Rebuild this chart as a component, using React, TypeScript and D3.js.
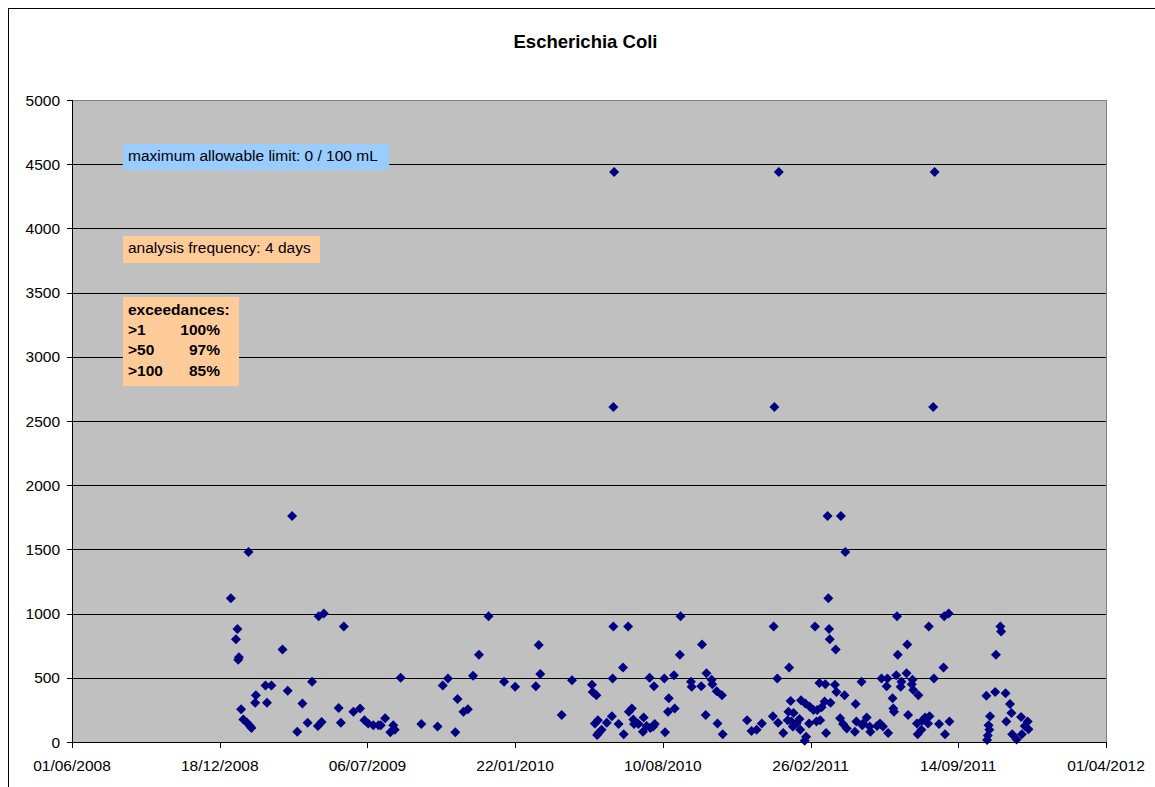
import React from 'react';
import * as d3 from 'd3';

const chartTitle = 'Escherichia Coli';
const limitNote = 'maximum allowable limit: 0 / 100 mL';
const frequencyNote = 'analysis frequency: 4 days';
const exceedanceHeader = 'exceedances:';
const exceedanceThresholds = ['>1', '>50', '>100'];
const exceedancePercents = ['100%', '97%', '85%'];

const yTickValues = [0, 500, 1000, 1500, 2000, 2500, 3000, 3500, 4000, 4500, 5000];
const xTickDates = ['2008-06-01', '2008-12-18', '2009-07-06', '2010-01-22', '2010-08-10', '2011-02-26', '2011-09-14', '2012-04-01'];

const samples2009: [string, number][] = [
  ['2009-01-02', 1120], ['2009-01-09', 800], ['2009-01-11', 880], ['2009-01-12', 640], ['2009-01-13', 660],
  ['2009-01-16', 255], ['2009-01-19', 175], ['2009-01-24', 150], ['2009-01-26', 1480], ['2009-01-28', 125],
  ['2009-01-30', 110], ['2009-02-04', 305], ['2009-02-05', 365], ['2009-02-18', 440], ['2009-02-20', 305],
  ['2009-02-26', 440], ['2009-03-13', 720], ['2009-03-20', 400], ['2009-03-26', 1760], ['2009-04-02', 80],
  ['2009-04-09', 300], ['2009-04-16', 150], ['2009-04-22', 470], ['2009-04-30', 125], ['2009-05-01', 980],
  ['2009-05-05', 155], ['2009-05-08', 1000], ['2009-05-28', 265], ['2009-05-31', 150], ['2009-06-04', 900],
  ['2009-06-17', 235], ['2009-06-26', 260], ['2009-07-02', 170], ['2009-07-07', 145], ['2009-07-14', 130],
  ['2009-07-21', 130], ['2009-07-24', 130], ['2009-07-30', 185], ['2009-08-06', 75], ['2009-08-10', 130],
  ['2009-08-12', 95], ['2009-08-20', 500], ['2009-09-17', 140], ['2009-10-09', 120], ['2009-10-16', 440],
  ['2009-10-23', 495], ['2009-11-02', 75], ['2009-11-05', 335], ['2009-11-13', 235], ['2009-11-19', 255],
  ['2009-11-26', 515], ['2009-12-04', 680], ['2009-12-17', 980],
];

const samples2010: [string, number][] = [
  ['2010-01-07', 470], ['2010-01-22', 430], ['2010-02-19', 435], ['2010-02-23', 755], ['2010-02-25', 530],
  ['2010-03-26', 210], ['2010-04-09', 480], ['2010-05-06', 445], ['2010-05-07', 390], ['2010-05-10', 145],
  ['2010-05-12', 365], ['2010-05-13', 55], ['2010-05-14', 170], ['2010-05-15', 70], ['2010-05-19', 95],
  ['2010-05-26', 150], ['2010-06-02', 200], ['2010-06-03', 495], ['2010-06-04', 900], ['2010-06-04', 2610],
  ['2010-06-05', 4440], ['2010-06-11', 140], ['2010-06-17', 580], ['2010-06-18', 60], ['2010-06-24', 900],
  ['2010-06-25', 235], ['2010-06-29', 260], ['2010-07-01', 175], ['2010-07-02', 140], ['2010-07-08', 140],
  ['2010-07-14', 80], ['2010-07-15', 190], ['2010-07-19', 125], ['2010-07-23', 500], ['2010-07-24', 110],
  ['2010-07-28', 120], ['2010-07-29', 435], ['2010-07-30', 140], ['2010-08-12', 495], ['2010-08-13', 75],
  ['2010-08-17', 235], ['2010-08-18', 340], ['2010-08-25', 520], ['2010-08-26', 260], ['2010-09-02', 680],
  ['2010-09-03', 980], ['2010-09-17', 470], ['2010-09-18', 430], ['2010-10-01', 435], ['2010-10-02', 760],
  ['2010-10-07', 210], ['2010-10-08', 535], ['2010-10-15', 485], ['2010-10-16', 450], ['2010-10-22', 395],
  ['2010-10-23', 145], ['2010-10-29', 365], ['2010-10-30', 60], ['2010-12-02', 170], ['2010-12-08', 85],
  ['2010-12-15', 95], ['2010-12-22', 145],
];

const samples2011: [string, number][] = [
  ['2011-01-06', 200], ['2011-01-07', 900], ['2011-01-08', 2610], ['2011-01-12', 495], ['2011-01-13', 150],
  ['2011-01-14', 4440], ['2011-01-20', 70], ['2011-01-26', 170], ['2011-01-27', 235], ['2011-01-28', 580],
  ['2011-01-30', 320], ['2011-01-31', 160], ['2011-02-02', 120], ['2011-02-03', 225], ['2011-02-07', 145],
  ['2011-02-11', 180], ['2011-02-12', 95], ['2011-02-13', 325], ['2011-02-18', 10], ['2011-02-19', 300],
  ['2011-02-20', 40], ['2011-02-24', 145], ['2011-02-25', 275], ['2011-03-02', 250], ['2011-03-04', 900],
  ['2011-03-06', 160], ['2011-03-07', 250], ['2011-03-10', 460], ['2011-03-11', 170], ['2011-03-13', 270],
  ['2011-03-17', 315], ['2011-03-18', 450], ['2011-03-19', 70], ['2011-03-21', 1760], ['2011-03-22', 1120],
  ['2011-03-23', 880], ['2011-03-24', 800], ['2011-03-25', 305], ['2011-03-31', 445], ['2011-04-01', 720],
  ['2011-04-02', 390], ['2011-04-07', 185], ['2011-04-08', 1760], ['2011-04-11', 140], ['2011-04-13', 365],
  ['2011-04-14', 1480], ['2011-04-16', 105], ['2011-04-27', 80], ['2011-04-28', 295], ['2011-04-29', 160],
  ['2011-05-06', 470], ['2011-05-07', 130], ['2011-05-08', 145], ['2011-05-13', 190], ['2011-05-17', 120],
  ['2011-05-18', 80], ['2011-05-27', 125], ['2011-05-31', 145], ['2011-06-02', 495], ['2011-06-04', 120],
  ['2011-06-09', 435], ['2011-06-10', 495], ['2011-06-11', 70], ['2011-06-17', 340], ['2011-06-18', 260],
  ['2011-06-19', 235], ['2011-06-22', 520], ['2011-06-23', 980], ['2011-06-24', 680], ['2011-06-28', 430],
  ['2011-06-29', 470], ['2011-07-06', 535], ['2011-07-07', 760], ['2011-07-08', 210], ['2011-07-13', 450],
  ['2011-07-14', 485], ['2011-07-15', 405], ['2011-07-20', 145], ['2011-07-21', 60], ['2011-07-22', 365],
  ['2011-07-26', 95], ['2011-07-27', 165], ['2011-07-31', 190], ['2011-08-04', 145], ['2011-08-05', 900],
  ['2011-08-06', 200], ['2011-08-11', 2610], ['2011-08-12', 495], ['2011-08-13', 4440], ['2011-08-19', 140],
  ['2011-08-25', 580], ['2011-08-26', 980], ['2011-08-27', 60], ['2011-09-01', 1000], ['2011-09-02', 160],
  ['2011-10-22', 360], ['2011-10-23', 15], ['2011-10-24', 50], ['2011-10-25', 130], ['2011-10-26', 95],
  ['2011-10-27', 200], ['2011-11-03', 390], ['2011-11-04', 680], ['2011-11-10', 900], ['2011-11-11', 860],
  ['2011-11-17', 380], ['2011-11-18', 160], ['2011-11-23', 295], ['2011-11-25', 225], ['2011-11-26', 60],
  ['2011-12-02', 20], ['2011-12-08', 195], ['2011-12-09', 60], ['2011-12-13', 125], ['2011-12-17', 160],
  ['2011-12-18', 100],
];

const FONT = '"Liberation Sans", Arial, Helvetica, sans-serif';

export default function App() {
  const W = 1155;
  const H = 787;
  const plot = { left: 72, right: 1106, top: 100, bottom: 742 };
  const parse = d3.utcParse('%Y-%m-%d');
  const fmt = d3.utcFormat('%d/%m/%Y');
  const tickDates = xTickDates.map((d) => parse(d) as Date);

  const x = d3.scaleUtc().domain([tickDates[0], tickDates[tickDates.length - 1]]).range([plot.left, plot.right]);
  const y = d3.scaleLinear().domain([0, 5000]).range([plot.bottom, plot.top]);

  const samples = [...samples2009, ...samples2010, ...samples2011].map(([d, v]) => ({ date: parse(d) as Date, value: v }));
  const diamond = d3.symbol(d3.symbolSquare, 50)() as string;
  const crisp = (v: number) => Math.round(v) + 0.5;

  const boxX = 123;
  const labelSize = 15.5;

  return (
    <svg width={W} height={H} style={{ position: 'absolute', left: 0, top: 0, background: '#fff' }} fontFamily={FONT}>
      <rect x={8.5} y={8.5} width={W + 20} height={H + 20} fill="#fff" stroke="#000" strokeWidth={1} />
      <text x={585.5} y={48} textAnchor="middle" fontWeight="bold" fontSize={18.5} fill="#000">{chartTitle}</text>

      <rect x={plot.left} y={plot.top} width={plot.right - plot.left} height={plot.bottom - plot.top} fill="#C0C0C0" stroke="#808080" strokeWidth={1} shapeRendering="crispEdges" />

      {yTickValues.filter((v) => v > 0 && v < 5000).map((v) => (
        <line key={'g' + v} x1={plot.left} x2={plot.right} y1={crisp(y(v))} y2={crisp(y(v))} stroke="#000" strokeWidth={1} shapeRendering="crispEdges" />
      ))}

      {/* y axis */}
      <line x1={crisp(plot.left)} x2={crisp(plot.left)} y1={plot.top} y2={plot.bottom} stroke="#000" shapeRendering="crispEdges" />
      {yTickValues.map((v) => (
        <g key={'yt' + v}>
          <line x1={plot.left - 5} x2={plot.left} y1={crisp(y(v))} y2={crisp(y(v))} stroke="#000" shapeRendering="crispEdges" />
          <text x={60} y={y(v) + 5.5} textAnchor="end" fontSize={labelSize} fill="#000">{v}</text>
        </g>
      ))}

      {/* x axis */}
      <line x1={plot.left} x2={plot.right} y1={crisp(plot.bottom)} y2={crisp(plot.bottom)} stroke="#000" shapeRendering="crispEdges" />
      {tickDates.map((d) => (
        <g key={'xt' + d.getTime()}>
          <line x1={crisp(x(d))} x2={crisp(x(d))} y1={plot.bottom} y2={plot.bottom + 6} stroke="#000" shapeRendering="crispEdges" />
          <text x={x(d)} y={771} textAnchor="middle" fontSize={labelSize} fill="#000">{fmt(d)}</text>
        </g>
      ))}

      {/* annotations */}
      <rect x={boxX} y={144} width={266} height={26} fill="#99CCFF" />
      <text x={boxX + 5} y={161} fontSize={labelSize} fill="#000">{limitNote}</text>

      <rect x={boxX} y={236} width={197} height={27} fill="#FFCC99" />
      <text x={boxX + 5} y={253} fontSize={labelSize} fill="#000">{frequencyNote}</text>

      <rect x={boxX} y={297} width={116} height={89} fill="#FFCC99" />
      <text x={boxX + 5} y={315} fontSize={labelSize} fontWeight="bold" fill="#000">{exceedanceHeader}</text>
      {exceedanceThresholds.map((t, i) => (
        <g key={t}>
          <text x={boxX + 5} y={334.5 + i * 20.5} fontSize={labelSize} fontWeight="bold" fill="#000">{t}</text>
          <text x={220} y={334.5 + i * 20.5} textAnchor="end" fontSize={labelSize} fontWeight="bold" fill="#000">{exceedancePercents[i]}</text>
        </g>
      ))}

      {/* data */}
      <g fill="#000080">
        {samples.map((s, i) => (
          <path key={i} d={diamond} transform={`translate(${x(s.date)},${y(s.value)}) rotate(45)`} />
        ))}
      </g>
    </svg>
  );
}
